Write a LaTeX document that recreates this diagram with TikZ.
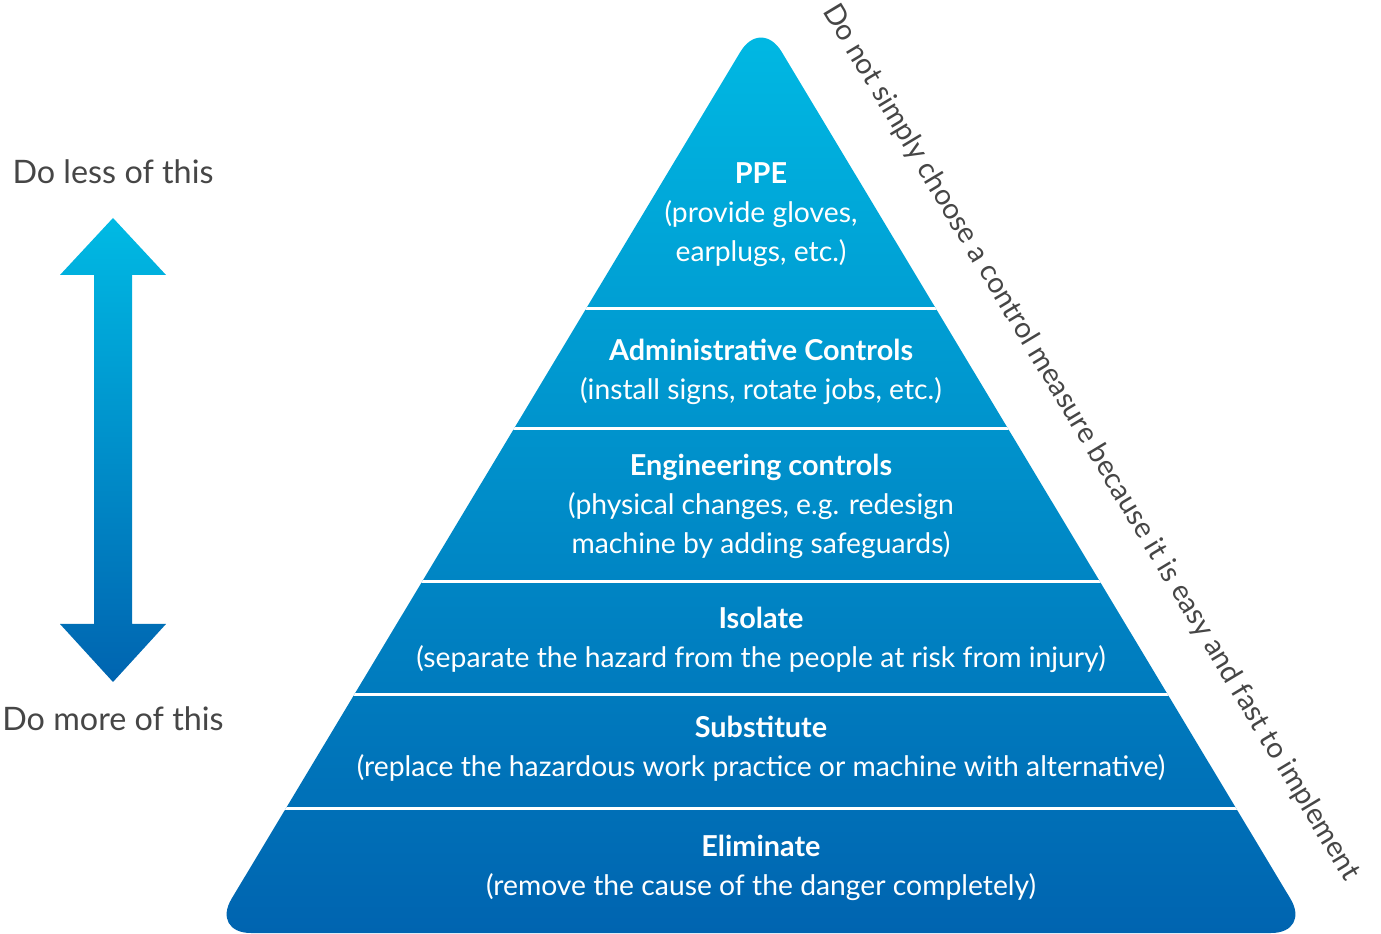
\documentclass[tikz,border=0pt]{standalone}
\usepackage{fontspec}
\setmainfont{Lato}
\usepackage{xcolor}
\usetikzlibrary{positioning}

\definecolor{topblue}{RGB}{0,186,228}
\definecolor{botblue}{RGB}{0,100,176}
\definecolor{sidegray}{RGB}{70,70,70}

\newcommand{\tiername}[1]{{\fontsize{8.2}{11.1}\selectfont\bfseries #1}}

\tikzset{
  tiertext/.style={align=center, text=white, inner sep=0pt,
    font=\fontsize{8.05}{11.1}\selectfont},
  sidetext/.style={text=sidegray, inner sep=0pt,
    font=\fontsize{9.2}{11}\selectfont},
}

\begin{document}
\begin{tikzpicture}
    \useasboundingbox (0,0) rectangle (13.81,9.33);

    % Pyramid corners
    \coordinate (apex) at (7.61,9.155);
    \coordinate (bl) at (2.11,0);
    \coordinate (br) at (13.11,0);

    % Pyramid body with white gaps between the tiers
    \begin{scope}
        \clip[rounded corners=0.4cm] (bl) -- (apex) -- (br) -- cycle;
        \shade[top color=topblue, bottom color=botblue] (2,0) rectangle (13.2,9.2);
        \foreach \y in {6.245,5.045,3.515,2.385,1.245}
            \draw[white, line width=0.03cm] (2,\y) -- (13.2,\y);
    \end{scope}

    % Tier texts
    \node[tiertext] (ppe) at (7.61,7.18) {\tiername{PPE}\\(provide gloves,\\earplugs, etc.)};
    \node[tiertext] (admin) at (7.61,5.615) {\tiername{Administrative Controls}\\(install signs, rotate jobs, etc.)};
    \node[tiertext] (eng) at (7.61,4.27) {\tiername{Engineering controls}\\(physical changes, e.g. redesign\\machine by adding safeguards)};
    \node[tiertext] (iso) at (7.61,2.935) {\tiername{Isolate}\\(separate the hazard from the people at risk from injury)};
    \node[tiertext] (subst) at (7.61,1.845) {\tiername{Substitute}\\(replace the hazardous work practice or machine with alternative)};
    \node[tiertext] (elim) at (7.61,0.65) {\tiername{Eliminate}\\(remove the cause of the danger completely)};

    % Note along the right side
    \path (apex) -- (br) node[sidetext, pos=0.5, sloped, above=0.5cm, font=\fontsize{8.2}{10}\selectfont] (note)
        {Do not simply choose a control measure because it is easy and fast to implement};

    % Up-down arrow
    \shade[top color=topblue, bottom color=botblue]
        (1.13,7.15) -- (1.66,6.58) -- (1.32,6.58) -- (1.32,3.09) -- (1.66,3.09)
        -- (1.13,2.51) -- (0.60,3.09) -- (0.94,3.09) -- (0.94,6.58) -- (0.60,6.58) -- cycle;
    \node[sidetext] (less) at (1.13,7.61) {Do less of this};
    \node[sidetext] (more) at (1.13,2.14) {Do more of this};
\end{tikzpicture}
\end{document}
